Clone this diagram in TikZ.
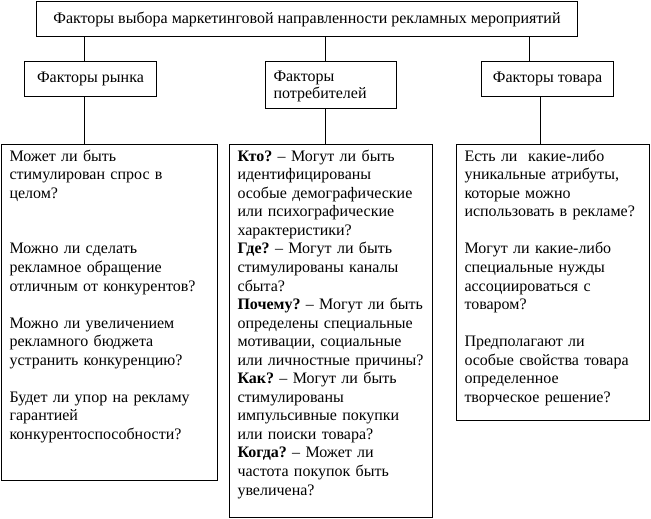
\documentclass[tikz,border=0pt]{standalone}
\usepackage{fontspec}
\setmainfont{Liberation Serif}
\frenchspacing
\begin{document}
\begin{tikzpicture}[x=1pt,y=-1pt,font=\fontsize{16}{18.55}\selectfont,line width=1pt,
		hbox/.style={draw,anchor=north west,inner sep=0pt},
		qbox/.style={draw,anchor=north west,align=left,inner xsep=8pt,inner ysep=0pt,text height=16.7pt}]
			\useasboundingbox (0,0) rectangle (651,519);
			\node[hbox,minimum width=541,minimum height=35] (top) at (36,1) {Факторы выбора маркетинговой направленности рекламных мероприятий};
			\node[hbox,minimum width=132,minimum height=35] (market) at (24,61) {Факторы рынка};
			\node[qbox,text width=115pt,text height=20pt,text depth=27pt,font=\fontsize{16}{16.7}\selectfont] (consumer) at (265,61) {Факторы\\потребителей};
			\node[hbox,minimum width=132,minimum height=35] (product) at (481,61) {Факторы товара};
			\node[qbox,text width=200pt,text depth=319.3pt] (marketq) at (1,144) {Может ли быть\\стимулирован спрос в\\целом?\\[37.1pt]Можно ли сделать\\рекламное обращение\\отличным от конкурентов?\\[18.55pt]Можно ли увеличением\\рекламного бюджета\\устранить конкуренцию?\\[18.55pt]Будет ли упор на рекламу\\гарантией\\конкурентоспособности?};
			\node[qbox,text width=187pt,text depth=355.8pt] (consumerq) at (229,144) {\textbf{Кто?} – Могут ли быть\\идентифицированы\\особые демографические\\или психографические\\характеристики?\\\textbf{Где?} – Могут ли быть\\стимулированы каналы\\сбыта?\\\textbf{Почему?} – Могут ли быть\\определены специальные\\мотивации, социальные\\или личностные причины?\\\textbf{Как?} – Могут ли быть\\стимулированы\\импульсивные покупки\\или поиски товара?\\\textbf{Когда?} – Может ли\\частота покупок быть\\увеличена?};
			\node[qbox,text width=177pt,text depth=259.3pt] (productq) at (456,144) {Есть ли\ \ какие-либо\\уникальные атрибуты,\\которые можно\\использовать в рекламе?\\[18.55pt]Могут ли какие-либо\\специальные нужды\\ассоциироваться с\\товаром?\\[18.55pt]Предполагают ли\\особые свойства товара\\определенное\\творческое решение?};
			\draw ([xshift=-5.7]market.north) -- ([xshift=-5.7]market.north |- top.south);
			\draw ([xshift=-5.8]consumer.north) -- ([xshift=-5.8]consumer.north |- top.south);
			\draw ([xshift=-18.3]product.north) -- ([xshift=-18.3]product.north |- top.south);
			\draw ([xshift=-5.7]market.south) -- ([xshift=-5.7]market.south |- marketq.north);
			\draw ([xshift=-5.8]consumer.south) -- ([xshift=-5.8]consumer.south |- consumerq.north);
			\draw ([xshift=-6.7]product.south) -- ([xshift=-6.7]product.south |- productq.north);
		\end{tikzpicture}
\end{document}
